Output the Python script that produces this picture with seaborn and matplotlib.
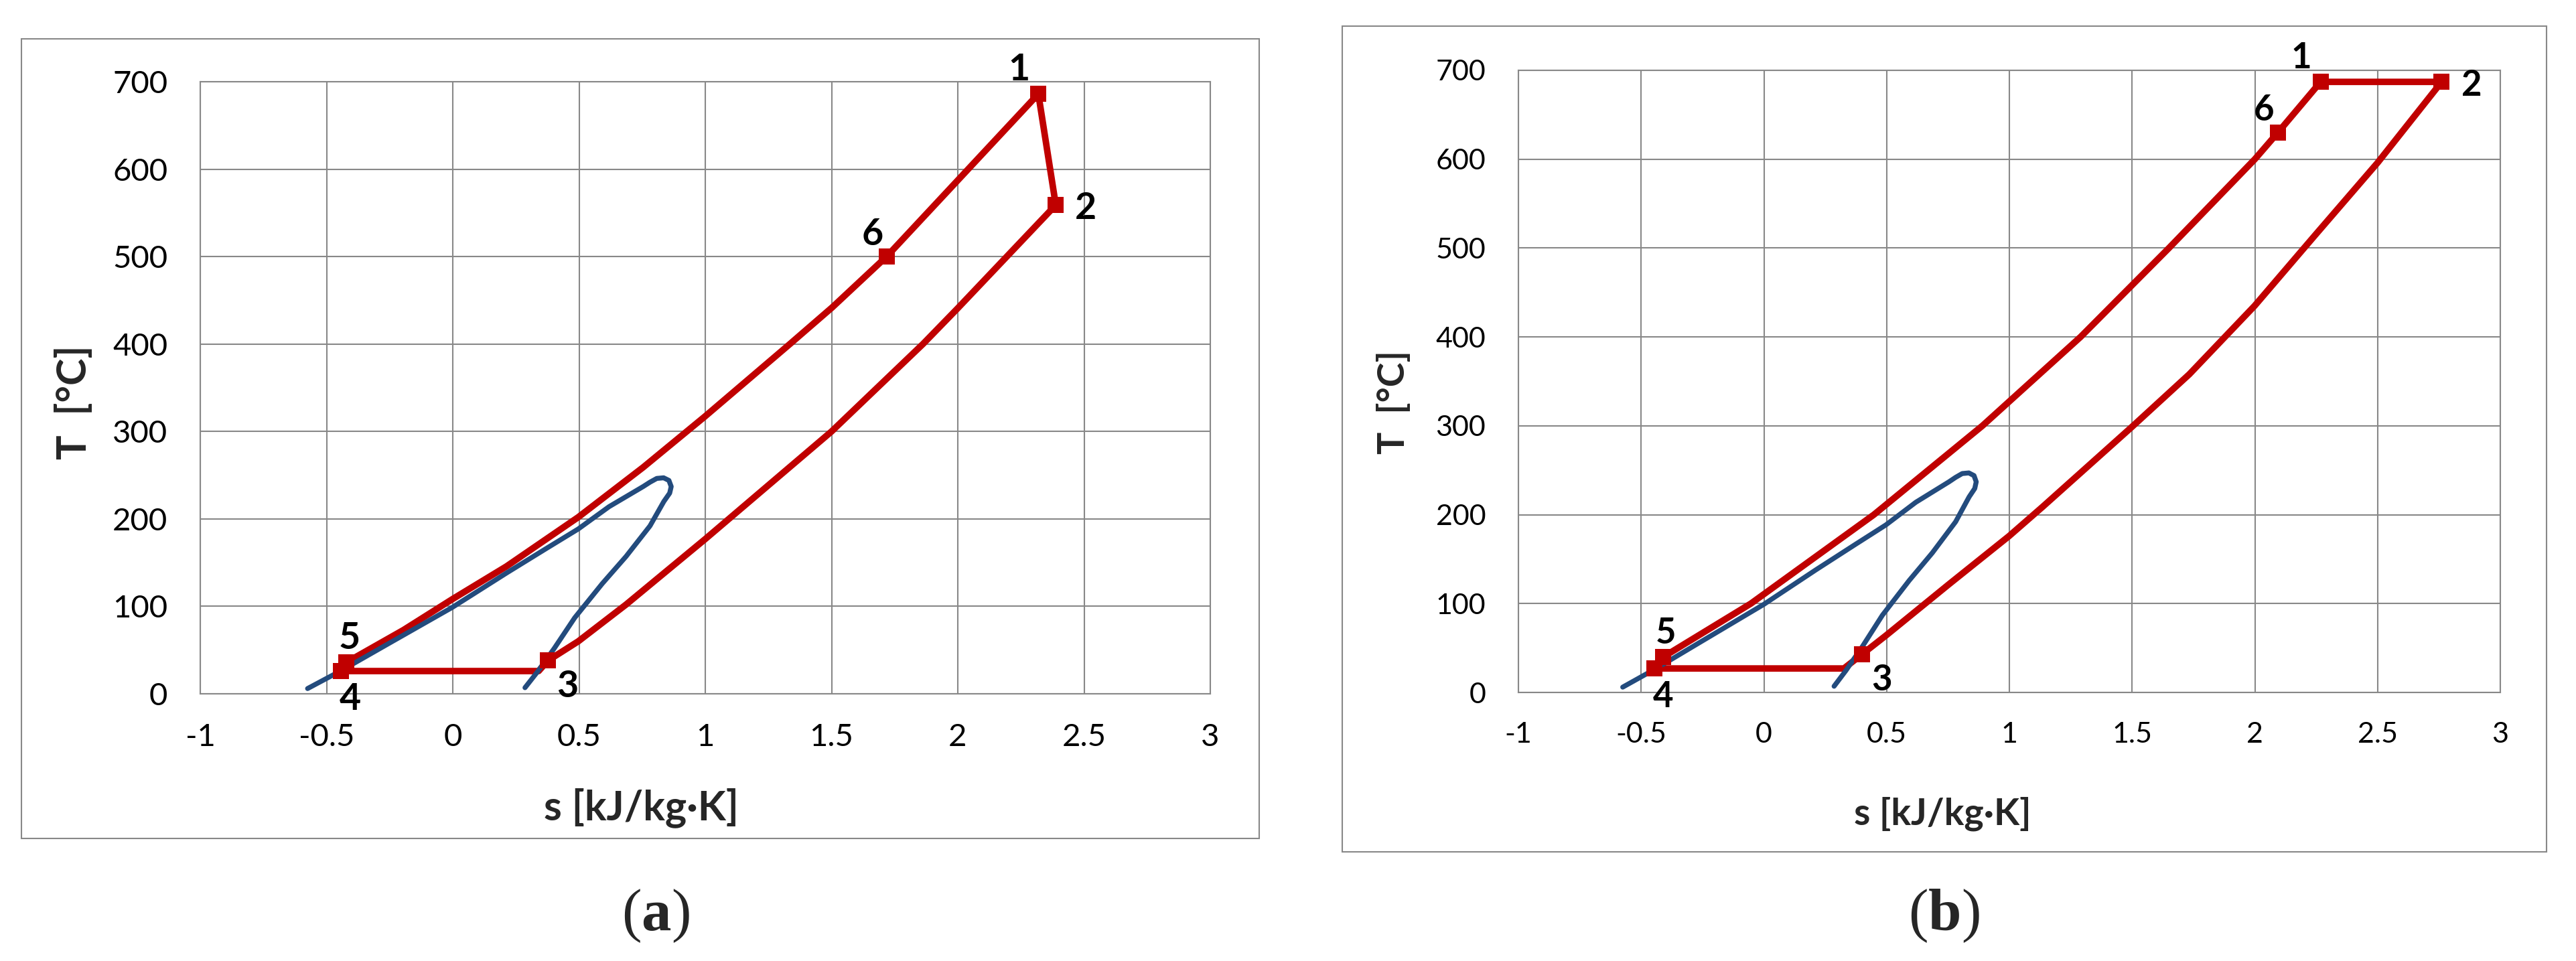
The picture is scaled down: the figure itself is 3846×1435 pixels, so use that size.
import numpy as np
import pandas as pd
import seaborn as sns
import matplotlib.pyplot as plt
from matplotlib.patches import Rectangle

# saturation dome (same in both panels)
dome_s = [-0.575, -0.442, -0.263, -0.001, 0.212, 0.375, 0.497, 0.619, 0.754, 0.781,
          0.808, 0.835, 0.856, 0.865, 0.859, 0.836, 0.781, 0.686, 0.592, 0.483,
          0.402, 0.334, 0.286]
dome_T = [6, 26.5, 56, 99, 138, 167, 188.5, 214, 237, 242,
          246.3, 247, 244, 237, 229.5, 220, 192, 157, 126, 87,
          52, 24.6, 7]

# cycle (a): 1 -> 2 -> 3 -> 4 -> 5 -> 6 -> 1
cycle_a_s = [2.319, 2.388, 2.0, 1.862, 1.5, 1.0, 0.686, 0.497, 0.377, 0.340,
             -0.442, -0.421, -0.195, 0.0, 0.212, 0.497, 0.754, 0.998, 1.335, 1.503,
             1.718, 2.319]
cycle_a_T = [686, 559, 441, 400, 300, 177, 102, 60, 38, 26,
             26, 36, 73, 108.5, 145.6, 202, 259, 317, 400, 442,
             500, 686]
points_a_s = [2.319, 2.388, 0.377, -0.442, -0.421, 1.718]
points_a_T = [686, 559, 38, 26, 36, 500]

# cycle (b)
cycle_b_s = [2.268, 2.761, 2.5, 2.247, 1.999, 1.733, 1.5, 1.136, 0.999, 0.755,
             0.497, 0.40, 0.326, -0.446, -0.412, -0.053, 0.448, 0.89, 1.29, 1.65,
             2.0, 2.094, 2.268]
cycle_b_T = [687, 687, 596, 515, 435, 358, 299, 209, 176, 122,
             64, 43, 27, 27, 39.6, 100, 200, 300, 400, 500,
             600, 630, 687]
points_b_s = [2.268, 2.761, 0.40, -0.446, -0.412, 2.094]
points_b_T = [687, 687, 43, 27, 39.6, 630]

point_labels = ['1', '2', '3', '4', '5', '6']
x_ticks = [-1, -0.5, 0, 0.5, 1, 1.5, 2, 2.5, 3]
x_tick_labels = ['-1', '-0.5', '0', '0.5', '1', '1.5', '2', '2.5', '3']
y_ticks = [0, 100, 200, 300, 400, 500, 600, 700]
y_tick_labels = ['0', '100', '200', '300', '400', '500', '600', '700']

RED = '#C00000'
BLUE = '#234B7D'
GRID = '#888888'
# label offsets in pixels, per state point
label_offsets = [(-29, 36), (45, -5), (29, -39), (13, -42), (4, 36), (-21, 33)]

sns.set_style("white")
plt.rcParams['font.family'] = ['Lato', 'DejaVu Sans']
plt.rcParams['mathtext.fontset'] = 'custom'
plt.rcParams['mathtext.rm'] = 'Liberation Serif'
plt.rcParams['mathtext.bf'] = 'Liberation Serif:bold'

W, H = 3846, 1435
fig = plt.figure(figsize=(W / 100, H / 100), dpi=100)


def fx(px):
    return px / W


def fy(py):
    return 1 - py / H


def panel(box, frame, cyc_s, cyc_T, pts_s, pts_T, tick_size, title_size, lab_size,
          xlab_pos, ylab_pos, cap_pos, cap):
    x0, y0, x1, y1 = box
    ax = fig.add_axes([fx(x0), fy(y1), fx(x1 - x0), fy(y0) - fy(y1)])
    fl, ft, fr, fb = frame
    fig.patches.append(Rectangle((fx(fl), fy(fb)), fx(fr - fl), fy(ft) - fy(fb),
                                 transform=fig.transFigure, fill=False,
                                 edgecolor=GRID, linewidth=1.5))

    cyc = pd.DataFrame({'s': cyc_s, 'T': cyc_T})
    dome = pd.DataFrame({'s': dome_s, 'T': dome_T})
    pts = pd.DataFrame({'s': pts_s, 'T': pts_T, 'lab': point_labels})

    sns.lineplot(data=cyc, x='s', y='T', sort=False, estimator=None, color=RED,
                 linewidth=7, ax=ax, zorder=3, clip_on=False, solid_joinstyle='round')
    sns.lineplot(data=dome, x='s', y='T', sort=False, estimator=None, color=BLUE,
                 linewidth=5.3, ax=ax, zorder=4, solid_capstyle='round',
                 solid_joinstyle='round')
    sns.scatterplot(data=pts, x='s', y='T', marker='s', s=17 ** 2, color=RED,
                    edgecolor=RED, linewidth=0, ax=ax, zorder=5, clip_on=False)
    for (s, T, lab), off in zip(zip(pts_s, pts_T, point_labels), label_offsets):
        ax.annotate(lab, (s, T), xytext=off, textcoords='offset pixels',
                    ha='center', va='center', fontsize=lab_size, fontweight='bold',
                    color='black', zorder=6, annotation_clip=False)

    ax.set_xlim(-1, 3)
    ax.set_ylim(0, 700)
    ax.set_xticks(x_ticks)
    ax.set_xticklabels(x_tick_labels)
    ax.set_yticks(y_ticks)
    ax.set_yticklabels(y_tick_labels)
    ax.grid(True, color=GRID, linewidth=1.5)
    ax.set_axisbelow(True)
    for sp in ax.spines.values():
        sp.set_color(GRID)
        sp.set_linewidth(1.5)
    ax.tick_params(axis='both', direction='out', length=12, width=1.5, color=GRID,
                   labelsize=tick_size, labelcolor='black')
    ax.tick_params(axis='y', pad=23)
    ax.tick_params(axis='x', pad=20)
    ax.set_xlabel('')
    ax.set_ylabel('')

    fig.text(fx(xlab_pos[0]), fy(xlab_pos[1]), 's [kJ/kg·K]', ha='center', va='center',
             fontsize=title_size, fontweight='bold')
    fig.text(fx(ylab_pos[0]), fy(ylab_pos[1]), 'T  [°C]', ha='center', va='center',
             rotation=90, fontsize=title_size, fontweight='bold')
    fig.text(fx(cap_pos[0]), fy(cap_pos[1]), '($\\mathbf{' + cap + '}$)', ha='center',
             va='center', fontsize=64, family=['Liberation Serif', 'DejaVu Serif'])
    return ax


panel((299, 122, 1807, 1036), (32, 58, 1880, 1252), cycle_a_s, cycle_a_T,
      points_a_s, points_a_T, 34, 44, 40, (957, 1206), (111, 601), (979, 1368), 'a')
panel((2267, 105, 3733, 1034), (2004, 39, 3802, 1272), cycle_b_s, cycle_b_T,
      points_b_s, points_b_T, 31, 40, 38, (2900, 1215), (2081, 601), (2902, 1368), 'b')

fig.savefig('out.png', dpi=100)
plt.close(fig)
